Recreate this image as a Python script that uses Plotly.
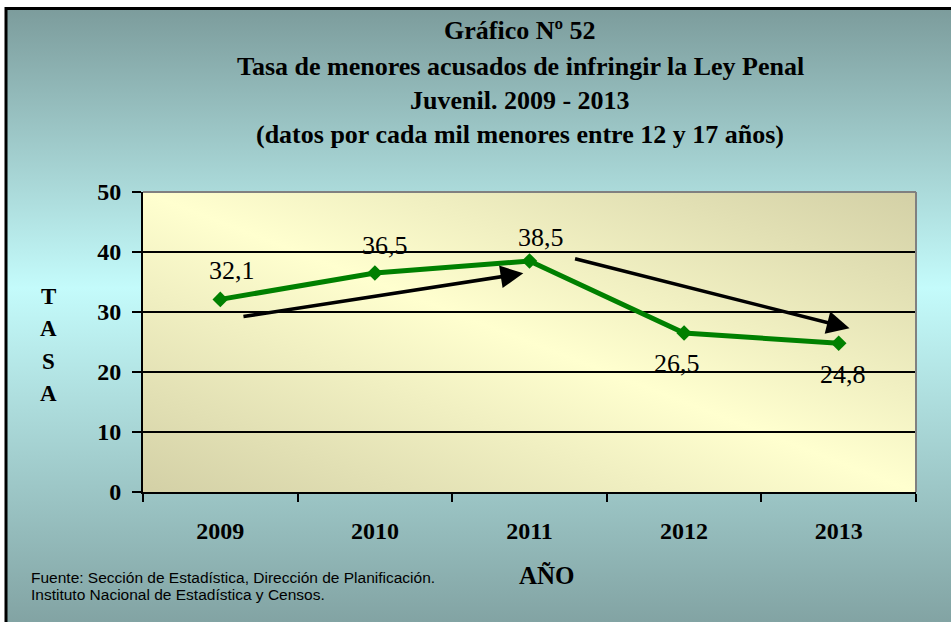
import base64
import plotly.graph_objects as go

# Data
years = ["2009", "2010", "2011", "2012", "2013"]
tasa = [32.1, 36.5, 38.5, 26.5, 24.8]
y_ticks = [0, 10, 20, 30, 40, 50]

title_lines = [
    "Gráfico Nº 52",
    "Tasa de menores acusados de infringir la Ley Penal",
    "Juvenil. 2009 - 2013",
    "(datos por cada mil menores entre 12 y 17 años)",
]
y_title = "TASA"
x_title = "AÑO"
source_lines = [
    "Fuente: Sección de Estadística, Dirección de Planificación.",
    "Instituto Nacional de Estadística y Censos.",
]

# Layout geometry (pixels)
W, H = 951, 622
L, R, T, B = 143, 35, 192, 130
PW, PH = W - L - R, H - T - B

SERIF = "Liberation Serif, Times New Roman, serif"
SANS = "Liberation Sans, Arial, sans-serif"


def px_x(px):
    return (px - L) / PW


def px_y(py):
    return (H - B - py) / PH


def svg_uri(svg):
    return "data:image/svg+xml;base64," + base64.b64encode(svg.encode("utf-8")).decode("ascii")


page_svg = (
    f"<svg xmlns='http://www.w3.org/2000/svg' width='{W}' height='{H}' "
    f"viewBox='0 0 {W} {H}' preserveAspectRatio='none'>"
    "<defs><linearGradient id='g' x1='0' y1='0' x2='0' y2='1'>"
    "<stop offset='0' stop-color='#7c9c9c'/>"
    "<stop offset='0.43' stop-color='#c4fbfb'/>"
    "<stop offset='0.97' stop-color='#7f9f9f'/>"
    "<stop offset='1' stop-color='#7f9f9f'/>"
    "</linearGradient></defs>"
    f"<rect width='{W}' height='{H}' fill='white'/>"
    "<rect x='6' y='8.5' width='980' height='650' fill='url(#g)' stroke='black' stroke-width='3'/>"
    "</svg>"
)

plot_svg = (
    f"<svg xmlns='http://www.w3.org/2000/svg' width='{PW}' height='{PH}' "
    f"viewBox='0 0 {PW} {PH}' preserveAspectRatio='none'>"
    "<defs><linearGradient id='p' x1='1' y1='0' x2='0' y2='1'>"
    "<stop offset='0' stop-color='#d3d0a6'/>"
    "<stop offset='0.5' stop-color='#ffffcf'/>"
    "<stop offset='1' stop-color='#d3d0a6'/>"
    "</linearGradient></defs>"
    f"<rect width='{PW}' height='{PH}' fill='url(#p)'/>"
    "</svg>"
)

fig = go.Figure()

fig.add_trace(go.Scatter(
    x=years, y=tasa, mode="lines+markers",
    line=dict(color="#008000", width=5),
    marker=dict(symbol="diamond", size=12, color="#008000"),
    hoverinfo="skip", showlegend=False,
))

# Value labels next to each point (x given as category index)
label_dx = [12, 10, 11, -7, 4]
label_dy = [29, 28, 24, -30, -31]
annotations = []
for i, v in enumerate(tasa):
    annotations.append(dict(
        x=i, y=v, xref="x", yref="y",
        text=f"{v:.1f}".replace(".", ","), showarrow=False,
        xshift=label_dx[i], yshift=label_dy[i],
        font=dict(family=SERIF, size=26, color="black"),
    ))

# Trend arrows (up to 2011, then down)
trend_arrows = [
    ((0.14, 29.2), (1.96, 36.45)),
    ((2.285, 38.95), (4.07, 27.3)),
]
for (x0, y0), (x1, y1) in trend_arrows:
    annotations.append(dict(
        x=x1, y=y1, ax=x0, ay=y0, xref="x", yref="y", axref="x", ayref="y",
        text="", showarrow=True, arrowhead=2, arrowsize=1.3, arrowwidth=3.5,
        arrowcolor="black", standoff=0,
    ))

# Title block
title_y_px = [30, 66, 100, 134]
for line, ypx in zip(title_lines, title_y_px):
    annotations.append(dict(
        x=px_x(520), y=px_y(ypx), xref="paper", yref="paper",
        xanchor="center", yanchor="middle", showarrow=False, text=line,
        font=dict(family=SERIF, size=26, color="black", weight="bold"),
    ))

# Vertical axis title, one letter per row
for ch, ypx in zip(y_title, [296, 328, 361, 393]):
    annotations.append(dict(
        x=px_x(48), y=px_y(ypx), xref="paper", yref="paper",
        xanchor="center", yanchor="middle", showarrow=False, text=ch,
        font=dict(family=SERIF, size=23, color="black", weight="bold"),
    ))

annotations.append(dict(
    x=px_x(547), y=px_y(575), xref="paper", yref="paper",
    xanchor="center", yanchor="middle", showarrow=False, text=x_title,
    font=dict(family=SERIF, size=25, color="black", weight="bold"),
))

# Source note
for line, ypx in zip(source_lines, [577, 594]):
    annotations.append(dict(
        x=px_x(29), y=px_y(ypx), xref="paper", yref="paper",
        xanchor="left", yanchor="middle", showarrow=False, align="left",
        text=line, font=dict(family=SANS, size=15.5, color="black"),
    ))

fig.update_layout(
    width=W, height=H,
    margin=dict(l=L, r=R, t=T, b=B, pad=0),
    paper_bgcolor="white",
    plot_bgcolor="rgba(0,0,0,0)",
    annotations=annotations,
    images=[
        dict(source=svg_uri(page_svg), xref="paper", yref="paper",
             x=-L / PW, y=1 + T / PH, sizex=W / PW, sizey=H / PH,
             xanchor="left", yanchor="top", sizing="stretch", layer="below"),
        dict(source=svg_uri(plot_svg), xref="paper", yref="paper",
             x=0, y=1, sizex=1, sizey=1,
             xanchor="left", yanchor="top", sizing="stretch", layer="below"),
    ],
    shapes=[
        # light frame on the open sides of the plot area
        dict(type="line", xref="paper", yref="paper", x0=0, x1=1, y0=1, y1=1,
             line=dict(color="#808080", width=2), layer="above"),
        dict(type="line", xref="paper", yref="paper", x0=1, x1=1, y0=0, y1=1,
             line=dict(color="#808080", width=2), layer="above"),
    ],
    xaxis=dict(
        type="category", categoryorder="array", categoryarray=years,
        range=[-0.5, len(years) - 0.5],
        tickson="boundaries", ticks="outside", ticklen=8, tickwidth=2,
        tickcolor="black", showline=True, linecolor="black", linewidth=2,
        showgrid=False, zeroline=False, ticklabelstandoff=16,
        tickfont=dict(family=SERIF, size=24, color="black", weight="bold"),
        fixedrange=True,
    ),
    yaxis=dict(
        range=[0, 50], tickvals=y_ticks, ticks="outside", ticklen=9,
        tickwidth=2, tickcolor="black", showline=True, linecolor="black",
        linewidth=2, showgrid=True, gridcolor="black", gridwidth=2,
        zeroline=False, ticklabelstandoff=6,
        tickfont=dict(family=SERIF, size=24, color="black", weight="bold"),
        fixedrange=True,
    ),
)

fig.write_html("out.html")
